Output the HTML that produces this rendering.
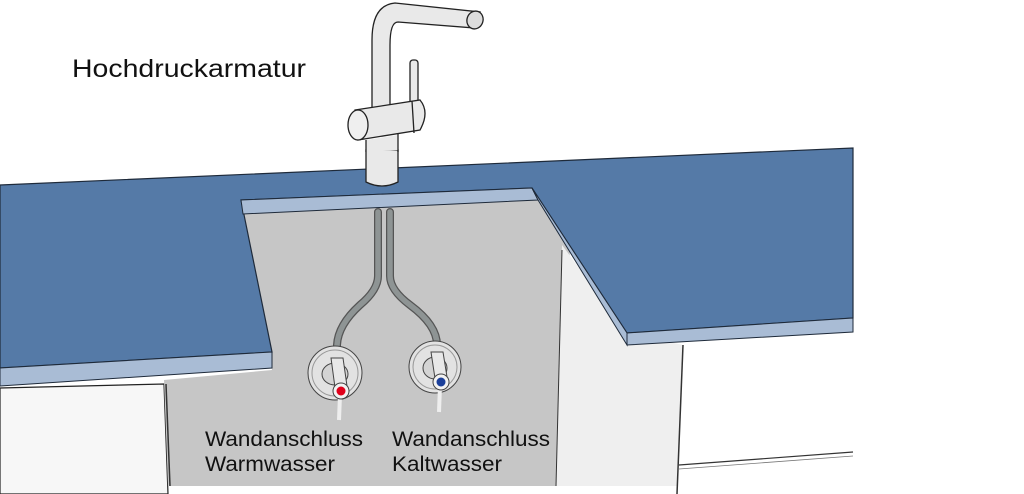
<!DOCTYPE html>
<html><head><meta charset="utf-8"><style>
html,body{margin:0;padding:0;background:#fff;}
svg{display:block}
text{font-family:"Liberation Sans",sans-serif;fill:#111;}
</style></head><body>
<svg width="1024" height="494" viewBox="0 0 1024 494" xmlns="http://www.w3.org/2000/svg">
<rect width="1024" height="494" fill="#fff"/>
<!-- left cabinet -->
<polygon points="0,388 164,384 168,494 0,494" fill="#f7f7f7" stroke="#222" stroke-width="1.2"/>
<!-- gray opening wall -->
<polygon points="241,205 538,195 570,250 556,486 168,486 164,380 272,370" fill="#c6c6c6"/>
<line x1="166" y1="384" x2="170" y2="486" stroke="#333" stroke-width="1.5"/>
<!-- light side panel -->
<polygon points="562,245 627,333 683,345 677,486 556,486" fill="#efefef"/>
<line x1="562" y1="250" x2="556" y2="486" stroke="#333" stroke-width="1"/>
<!-- right cabinet -->
<polygon points="683,345 853,338 853,494 677,494" fill="#fff"/>
<line x1="683" y1="345" x2="677" y2="494" stroke="#333" stroke-width="1.5"/>
<line x1="679" y1="465" x2="853" y2="452" stroke="#333" stroke-width="1.2"/>
<line x1="679" y1="469" x2="853" y2="456" stroke="#777" stroke-width="0.8"/>
<!-- countertop blue -->
<polygon points="0,185 853,148 853,318 627,333 532,188 241,200 272,352 0,368" fill="#557aa7" stroke="#1e2a3a" stroke-width="1.2"/>
<!-- strips -->
<polygon points="0,368 272,352 272,368 0,386" fill="#a9bcd5" stroke="#1e2a3a" stroke-width="1"/>
<polygon points="241,200 532,188 538,200 243,214" fill="#a9bcd5" stroke="#1e2a3a" stroke-width="1"/>
<polygon points="532,188 627,333 627,345 538,200" fill="#a9bcd5" stroke="#1e2a3a" stroke-width="1"/>
<polygon points="627,333 853,318 853,332 627,345" fill="#a9bcd5" stroke="#1e2a3a" stroke-width="1"/>
<!-- pipes -->
<g fill="none" stroke-linecap="round">
<path d="M378,212 L378,276 Q378,290 360,305 Q338,325 337,345 L337,362" stroke="#555" stroke-width="8"/>
<path d="M378,212 L378,276 Q378,290 360,305 Q338,325 337,345 L337,362" stroke="#8e9494" stroke-width="5.5"/>
<path d="M390,212 L390,276 Q390,290 410,305 Q437,325 437,345 L437,358" stroke="#555" stroke-width="8"/>
<path d="M390,212 L390,276 Q390,290 410,305 Q437,325 437,345 L437,358" stroke="#8e9494" stroke-width="5.5"/>
</g>
<!-- valves -->
<g stroke="#444" stroke-width="1">
<circle cx="335" cy="373" r="27" fill="#e2e2e2"/>
<circle cx="335" cy="373" r="23" fill="none" stroke="#999"/>
<ellipse cx="335" cy="374" rx="13" ry="11" fill="#d4d4d4"/>
<line x1="340" y1="395" x2="339" y2="420" stroke="#eee" stroke-width="4"/>
<polygon points="331,358 343,358 348,393 336,395" fill="#e8e8e8"/>
<circle cx="341" cy="391" r="8" fill="#f2f2f2"/>
<circle cx="341" cy="391" r="4.5" fill="#e0001a" stroke="none"/>
<circle cx="435" cy="367" r="26" fill="#e2e2e2"/>
<circle cx="435" cy="367" r="22" fill="none" stroke="#999"/>
<ellipse cx="435" cy="368" rx="12" ry="11" fill="#d4d4d4"/>
<line x1="440" y1="386" x2="439" y2="412" stroke="#eee" stroke-width="4"/>
<polygon points="431,352 443,352 448,383 436,385" fill="#e8e8e8"/>
<circle cx="441" cy="382" r="8" fill="#f2f2f2"/>
<circle cx="441" cy="382" r="4.5" fill="#1b3f9a" stroke="none"/>
</g>
<!-- faucet -->
<g stroke="#222" stroke-width="1.3" fill="#e9e9e9">
<path d="M366,150 L366,182 Q382,190 398,182 L398,150 Z"/>
<path d="M372,110 L372,40 Q372,5 395,3 L480,12 L475,28 L398,22 Q390,22 390,45 L390,110 Z"/>
<ellipse cx="475" cy="20" rx="8" ry="9" transform="rotate(20 475 20)" fill="#ddd"/>
<rect x="410" y="60" width="8" height="45" rx="3"/>
<path d="M355,110 L420,100 Q430,112 420,130 L358,140 Z"/>
<line x1="412" y1="101" x2="414" y2="133"/>
<ellipse cx="358" cy="125" rx="10" ry="15" fill="#efefef"/>
<path d="M366,140 L398,135 L398,150 L366,152 Z" stroke="none"/>
<line x1="366" y1="140" x2="366" y2="152"/>
<line x1="398" y1="133" x2="398" y2="152"/>
</g>
<!-- text -->
<text x="72" y="77" font-size="25" textLength="234" lengthAdjust="spacingAndGlyphs">Hochdruckarmatur</text>
<text x="205" y="446" font-size="21" textLength="158" lengthAdjust="spacingAndGlyphs">Wandanschluss</text>
<text x="205" y="471" font-size="21" textLength="130" lengthAdjust="spacingAndGlyphs">Warmwasser</text>
<text x="392" y="446" font-size="21" textLength="158" lengthAdjust="spacingAndGlyphs">Wandanschluss</text>
<text x="392" y="471" font-size="21" textLength="110" lengthAdjust="spacingAndGlyphs">Kaltwasser</text>
</svg>
</body></html>
